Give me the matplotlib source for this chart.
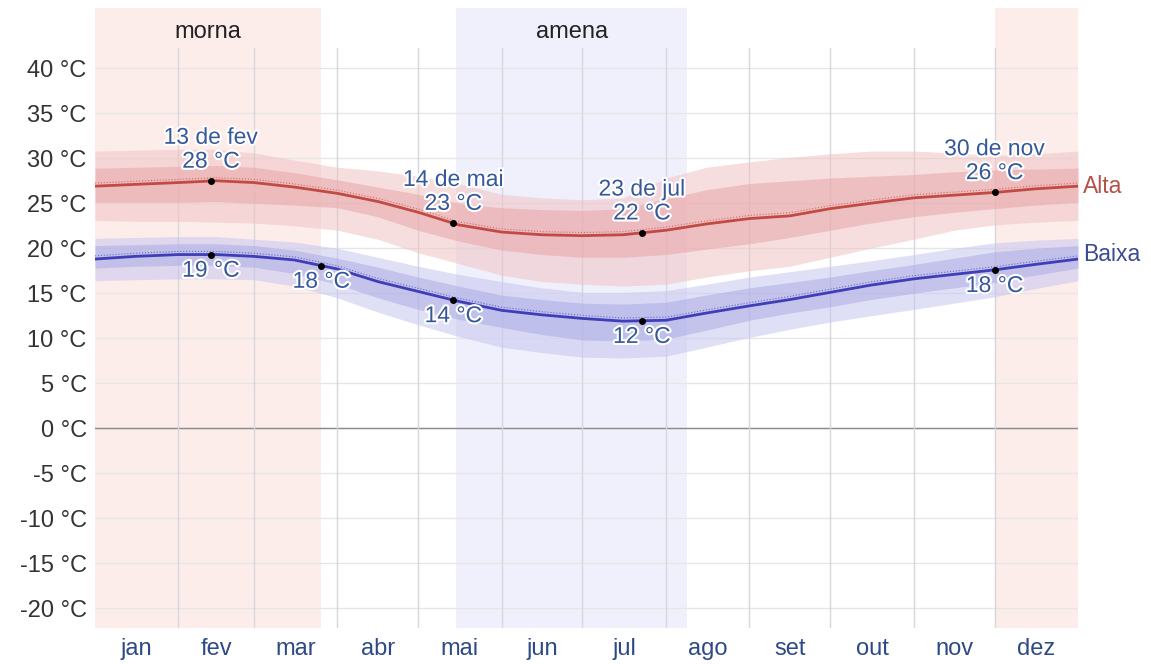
import numpy as np
import matplotlib
matplotlib.use('Agg')
import matplotlib.pyplot as plt
import matplotlib.patheffects as pe

plt.rcParams['font.family'] = ['Liberation Sans', 'DejaVu Sans']

# day of year for each sample
days = [0, 15, 31, 45, 59, 74, 90, 105, 120, 135, 151, 166, 181,
        196, 212, 227, 243, 258, 273, 288, 304, 319, 334, 349, 365]

# daily high (average) and its percentile bands
high = [26.9, 27.1, 27.3, 27.5, 27.3, 26.8, 26.1, 25.2, 24.0, 22.6, 21.8, 21.5, 21.4,
        21.5, 22.0, 22.7, 23.3, 23.6, 24.4, 25.0, 25.6, 25.9, 26.2, 26.6, 26.9]
high_p75 = [28.9, 29.0, 29.1, 29.2, 29.0, 28.4, 27.6, 26.8, 26.0, 25.0, 24.5, 24.3, 24.2,
            24.4, 25.5, 26.5, 27.2, 27.5, 27.8, 28.0, 28.2, 28.5, 28.7, 28.8, 28.9]
high_p25 = [25.1, 25.1, 25.1, 25.2, 25.0, 24.8, 24.5, 23.5, 22.0, 20.8, 19.8, 19.3, 19.0,
            19.0, 19.3, 19.9, 20.5, 21.2, 22.0, 22.8, 23.5, 24.0, 24.4, 24.8, 25.1]
high_p90 = [30.8, 30.9, 31.0, 31.0, 30.6, 29.8, 29.0, 28.6, 28.0, 27.2, 26.0, 25.6, 25.4,
            25.6, 27.8, 29.0, 29.6, 30.1, 30.5, 30.8, 30.8, 30.6, 30.3, 30.5, 30.8]
high_p10 = [23.1, 23.0, 23.0, 22.9, 22.8, 22.5, 22.0, 21.0, 19.5, 18.3, 17.0, 16.3, 16.0,
            15.8, 16.0, 16.8, 17.5, 18.0, 19.0, 20.0, 21.0, 22.0, 22.6, 22.9, 23.1]

# daily low (average) and its percentile bands
low = [18.8, 19.1, 19.3, 19.3, 19.1, 18.7, 17.7, 16.3, 15.2, 14.1, 13.1, 12.6, 12.2,
       11.9, 12.0, 12.8, 13.6, 14.3, 15.1, 15.9, 16.6, 17.1, 17.6, 18.2, 18.8]
low_p75 = [20.3, 20.4, 20.5, 20.5, 20.3, 19.8, 18.9, 17.9, 16.8, 15.8, 14.8, 14.3, 13.9,
           13.8, 14.0, 14.8, 15.6, 16.2, 16.8, 17.5, 18.2, 18.9, 19.6, 20.0, 20.3]
low_p25 = [17.8, 18.0, 18.1, 18.1, 17.9, 17.2, 16.0, 14.5, 13.2, 12.1, 11.2, 10.4, 9.8,
           9.7, 9.9, 10.9, 12.0, 12.8, 13.5, 14.3, 15.0, 15.6, 16.2, 17.0, 17.8]
low_p90 = [21.1, 21.2, 21.3, 21.3, 21.0, 20.7, 20.0, 19.0, 18.0, 17.1, 16.3, 15.6, 15.1,
           15.1, 15.3, 16.0, 16.8, 17.4, 18.0, 18.6, 19.3, 20.0, 20.6, 20.9, 21.1]
low_p10 = [16.4, 16.5, 16.6, 16.6, 16.5, 15.8, 14.5, 12.9, 11.5, 10.2, 9.0, 8.4, 7.9,
           7.8, 8.0, 9.0, 10.1, 11.0, 11.8, 12.5, 13.2, 13.9, 14.6, 15.5, 16.4]

# annotated days
high_marks = [(43, "13 de fev\n28 °C"), (133, "14 de mai\n23 °C"),
              (203, "23 de jul\n22 °C"), (334, "30 de nov\n26 °C")]
low_marks = [(43, "19 °C"), (84, "18 °C"), (133, "14 °C"),
             (203, "12 °C"), (334, "18 °C")]

# seasons
warm_spans = [(0, 84), (334, 365)]
cool_spans = [(134, 220)]

months = ["jan", "fev", "mar", "abr", "mai", "jun",
          "jul", "ago", "set", "out", "nov", "dez"]
month_len = [31, 28, 31, 30, 31, 30, 31, 31, 30, 31, 30, 31]

yticks = list(range(-20, 45, 5))

YMIN, YMAX = -22.2, 46.7
GRID_TOP = 42.2

fig = plt.figure(figsize=(11.51, 6.64), dpi=100)
ax = fig.add_axes([95 / 1151, 36 / 664, 983 / 1151, 620 / 664])
ax.set_xlim(0, 365)
ax.set_ylim(YMIN, YMAX)
for s in ax.spines.values():
    s.set_visible(False)

for a, b in warm_spans:
    ax.axvspan(a, b, color='#fdedea', zorder=0, lw=0)
for a, b in cool_spans:
    ax.axvspan(a, b, color='#f0f0fd', zorder=0, lw=0)
ax.text(np.mean(warm_spans[0]), 44.0, "morna", ha='center', va='center',
        fontsize=17, color='#222222')
ax.text(np.mean(cool_spans[0]), 44.0, "amena", ha='center', va='center',
        fontsize=17, color='#222222')

# grid
for v in yticks:
    ax.axhline(v, color='#e6e6e6', lw=1, zorder=1)
ax.axhline(0, color='#8a8a8a', lw=1, zorder=1)
starts = np.cumsum([0] + month_len[:-1])
gfrac = (GRID_TOP - YMIN) / (YMAX - YMIN)
for d in starts[1:]:
    ax.axvline(d, ymin=0, ymax=gfrac, color='#d6d6dc', lw=1, zorder=1)

# bands
ax.fill_between(days, high_p10, high_p90, color='#f0c2c4', alpha=0.55, lw=0, zorder=2)
ax.fill_between(days, high_p25, high_p75, color='#e8a2a4', alpha=0.5, lw=0, zorder=2)
ax.fill_between(days, low_p10, low_p90, color='#c6c6f0', alpha=0.55, lw=0, zorder=2)
ax.fill_between(days, low_p25, low_p75, color='#a8a8e4', alpha=0.5, lw=0, zorder=2)

ax.plot(days, np.array(high) + 0.35, color='#d86a66', lw=0.8, ls=':', zorder=3)
ax.plot(days, np.array(low) + 0.35, color='#6b6bd0', lw=0.8, ls=':', zorder=3)
ax.plot(days, high, color='#c24a44', lw=2, zorder=4)
ax.plot(days, low, color='#3e3eb8', lw=2, zorder=4)

halo = [pe.withStroke(linewidth=3, foreground='white')]
lab_color = '#35589a'
for d, txt in high_marks:
    v = np.interp(d, days, high)
    ax.plot(d, v, 'o', color='black', ms=4, zorder=6)
    ax.annotate(txt, (d, v), xytext=(0, 6), textcoords='offset points',
                ha='center', va='bottom', fontsize=16.5, color=lab_color,
                linespacing=1.05, path_effects=halo, zorder=7)
for d, txt in low_marks:
    v = np.interp(d, days, low)
    ax.plot(d, v, 'o', color='black', ms=4, zorder=6)
    ax.annotate(txt, (d, v), xytext=(0, -3), textcoords='offset points',
                ha='center', va='top', fontsize=16.5, color=lab_color,
                path_effects=halo, zorder=7)

ax.text(367, high[-1], "Alta", ha='left', va='center', fontsize=16.5,
        color='#b4524a', clip_on=False)
ax.text(367, low[-1] + 0.5, "Baixa", ha='left', va='center', fontsize=16.5,
        color='#3d4a94', clip_on=False)

mids = starts + np.array(month_len) / 2.0
ax.set_xticks(mids)
ax.set_xticklabels(months, fontsize=17, color='#2e4a86')
ax.set_yticks(yticks)
ax.set_yticklabels([f"{v} °C" for v in yticks], fontsize=17, color='#333333')
ax.tick_params(axis='both', length=0)
ax.tick_params(axis='x', pad=7)
ax.tick_params(axis='y', pad=6)

plt.savefig('out.png', dpi=100)
